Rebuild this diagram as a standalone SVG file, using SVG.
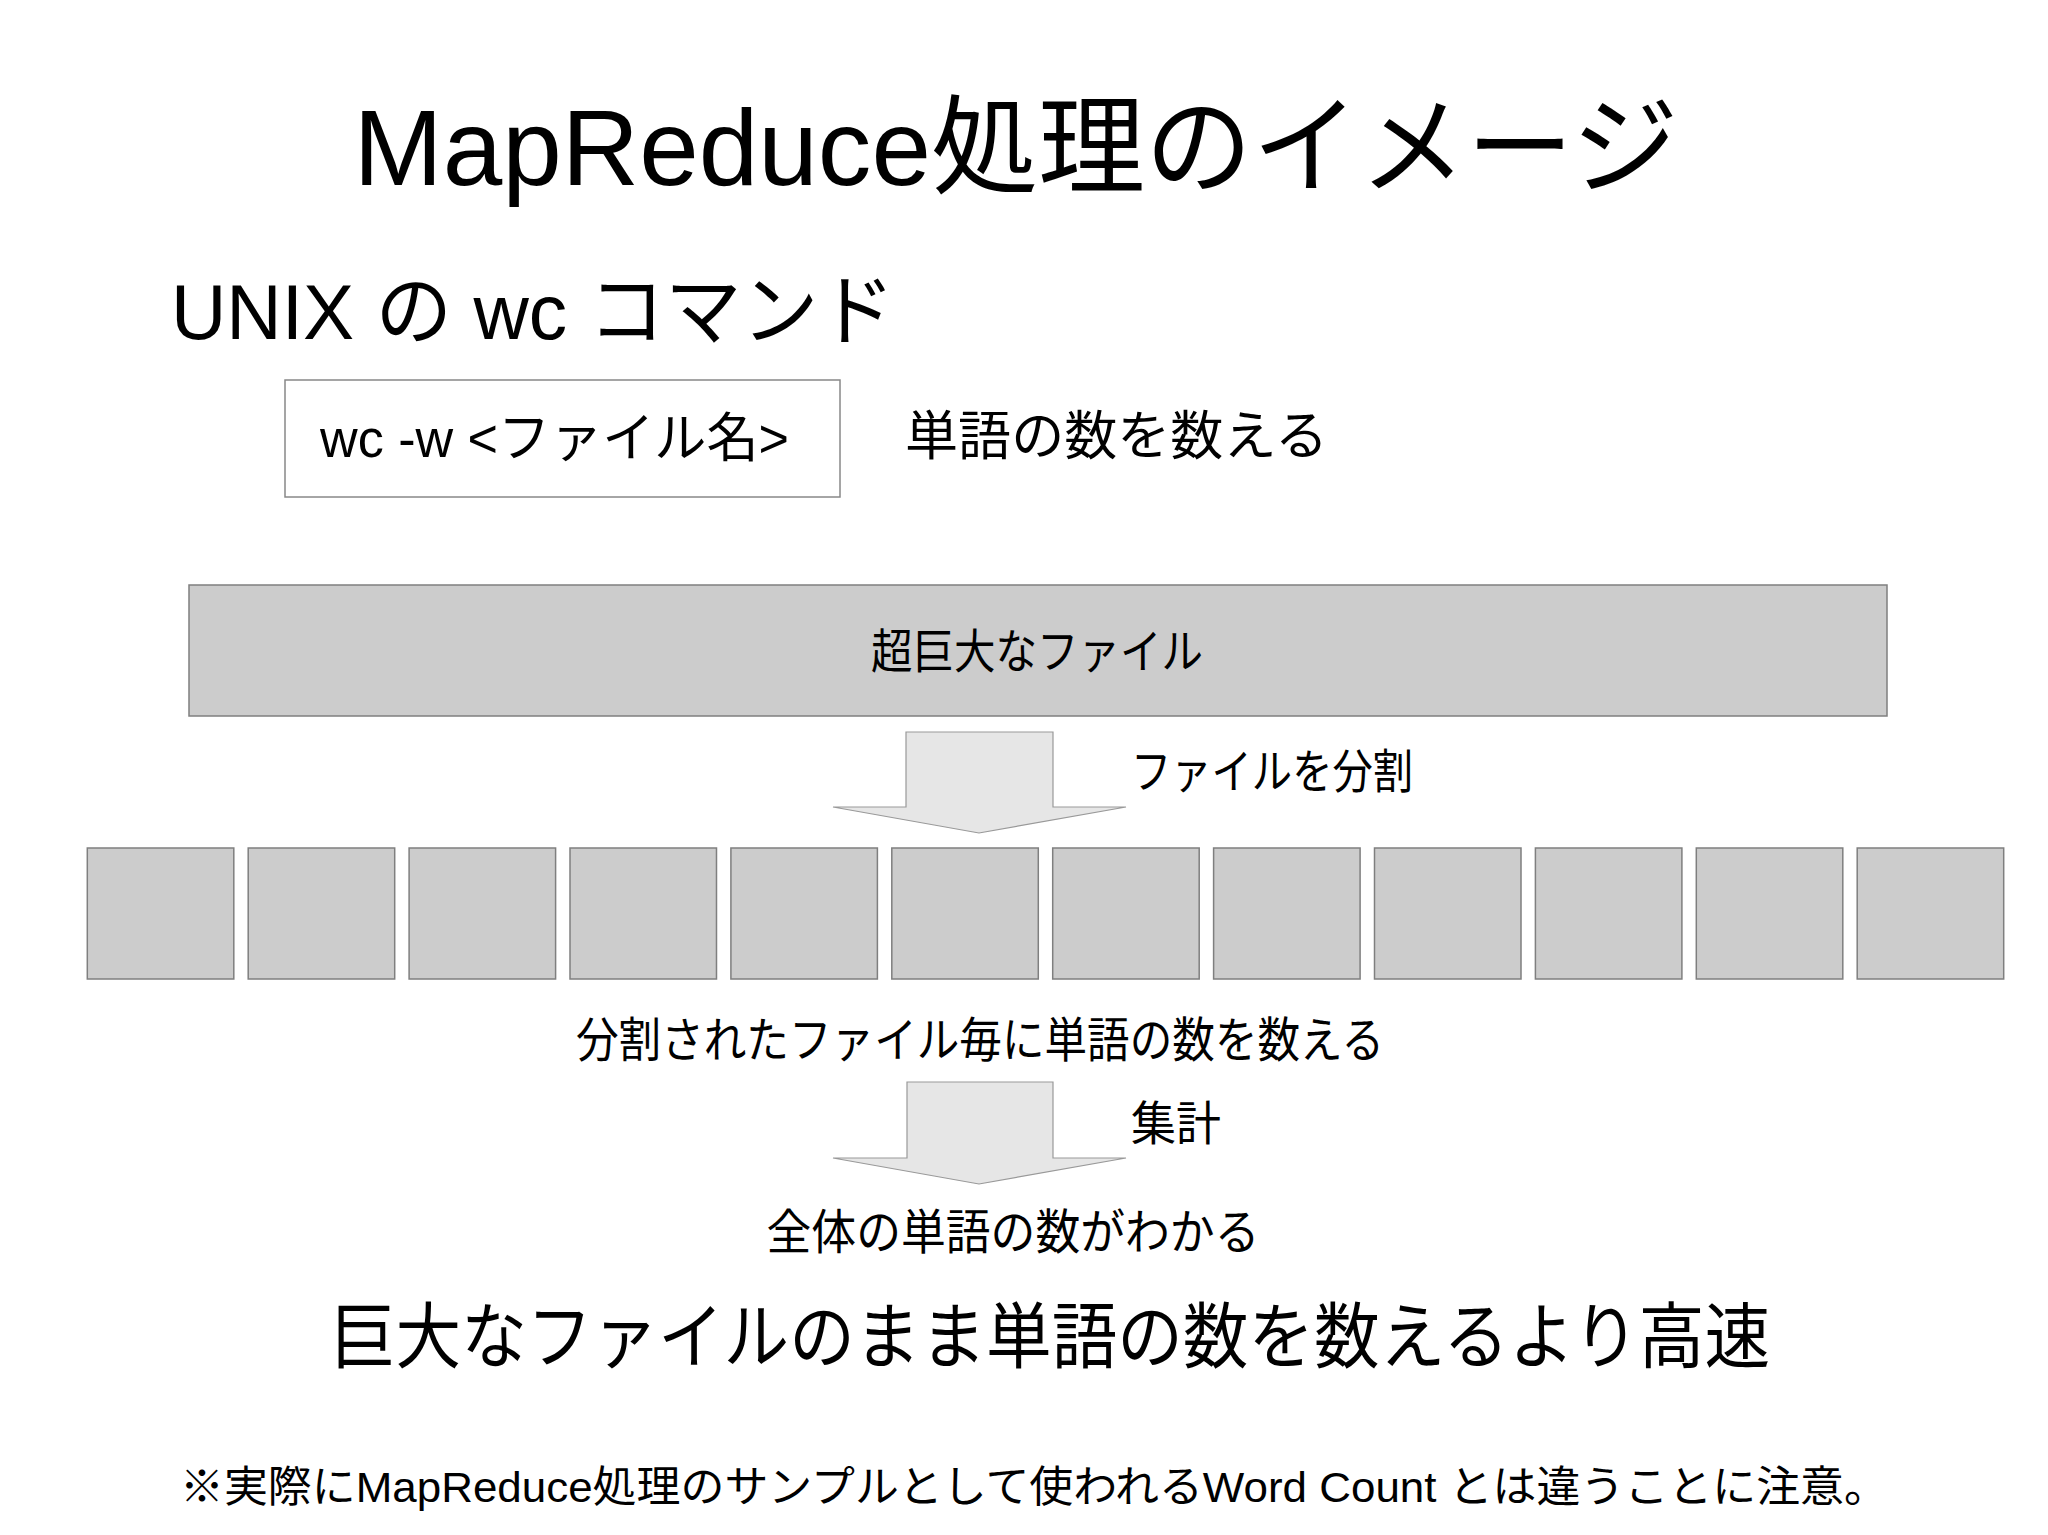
<svg xmlns="http://www.w3.org/2000/svg" width="2048" height="1535" viewBox="0 0 2048 1535">
<style>
text{font-family:"Liberation Sans","Noto Sans CJK JP",sans-serif;fill:#000}
.gbox{fill:#cccccc;stroke:#7f7f7f;stroke-width:1.5}
.wbox{fill:#ffffff;stroke:#888888;stroke-width:1.5}
.arrow{fill:#e6e6e6;stroke:#999999;stroke-width:1.2}
</style>
<rect width="2048" height="1535" fill="#ffffff"/>
<g id="title"><text x="1016" y="185" font-size="108" text-anchor="middle" textLength="1325" lengthAdjust="spacingAndGlyphs">MapReduce処理のイメージ</text></g>
<g id="subtitle"><text x="171" y="339" font-size="78" textLength="724" lengthAdjust="spacingAndGlyphs">UNIX の wc コマンド</text></g>
<g id="cmd-box">
<rect class="wbox" x="285" y="380" width="555" height="117"/>
<text x="320" y="457" font-size="53" textLength="469" lengthAdjust="spacingAndGlyphs">wc -w &lt;ファイル名&gt;</text>
</g>
<g id="cmd-desc"><text x="905" y="455" font-size="53" textLength="423" lengthAdjust="spacingAndGlyphs">単語の数を数える</text></g>
<g id="big-file">
<rect class="gbox" x="189" y="585" width="1698" height="131"/>
<text x="1037" y="668" font-size="47" text-anchor="middle" textLength="332" lengthAdjust="spacingAndGlyphs">超巨大なファイル</text>
</g>
<g id="split-label"><text x="1131" y="788" font-size="47" textLength="282" lengthAdjust="spacingAndGlyphs">ファイルを分割</text></g>
<g id="chunks">
<rect class="gbox" x="87.3" y="848" width="146.5" height="131"/>
<rect class="gbox" x="248.2" y="848" width="146.5" height="131"/>
<rect class="gbox" x="409.1" y="848" width="146.5" height="131"/>
<rect class="gbox" x="570.0" y="848" width="146.5" height="131"/>
<rect class="gbox" x="730.9" y="848" width="146.5" height="131"/>
<rect class="gbox" x="891.8" y="848" width="146.5" height="131"/>
<rect class="gbox" x="1052.7" y="848" width="146.5" height="131"/>
<rect class="gbox" x="1213.6" y="848" width="146.5" height="131"/>
<rect class="gbox" x="1374.5" y="848" width="146.5" height="131"/>
<rect class="gbox" x="1535.4" y="848" width="146.5" height="131"/>
<rect class="gbox" x="1696.3" y="848" width="146.5" height="131"/>
<rect class="gbox" x="1857.2" y="848" width="146.5" height="131"/>
</g>
<g id="map-label"><text x="980" y="1057" font-size="47.5" text-anchor="middle" textLength="808" lengthAdjust="spacingAndGlyphs">分割されたファイル毎に単語の数を数える</text></g>
<g id="reduce-label"><text x="1131" y="1140" font-size="47" textLength="90" lengthAdjust="spacingAndGlyphs">集計</text></g>
<g id="result-label"><text x="1013" y="1249" font-size="48" text-anchor="middle" textLength="493" lengthAdjust="spacingAndGlyphs">全体の単語の数がわかる</text></g>
<g id="conclusion"><text x="1050" y="1362" font-size="72" text-anchor="middle" textLength="1440" lengthAdjust="spacingAndGlyphs">巨大なファイルのまま単語の数を数えるより高速</text></g>
<g id="footnote"><text x="180" y="1502" font-size="43" textLength="1708" lengthAdjust="spacingAndGlyphs">※実際にMapReduce処理のサンプルとして使われるWord Count とは違うことに注意。</text></g>
<g id="connectors">
<polygon class="arrow" points="906,732 1053,732 1053,807 1126,807 979,833 833,807 906,807"/>
<polygon class="arrow" points="907,1082 1053,1082 1053,1158 1126,1158 979,1184 833,1158 907,1158"/>
</g>
</svg>
